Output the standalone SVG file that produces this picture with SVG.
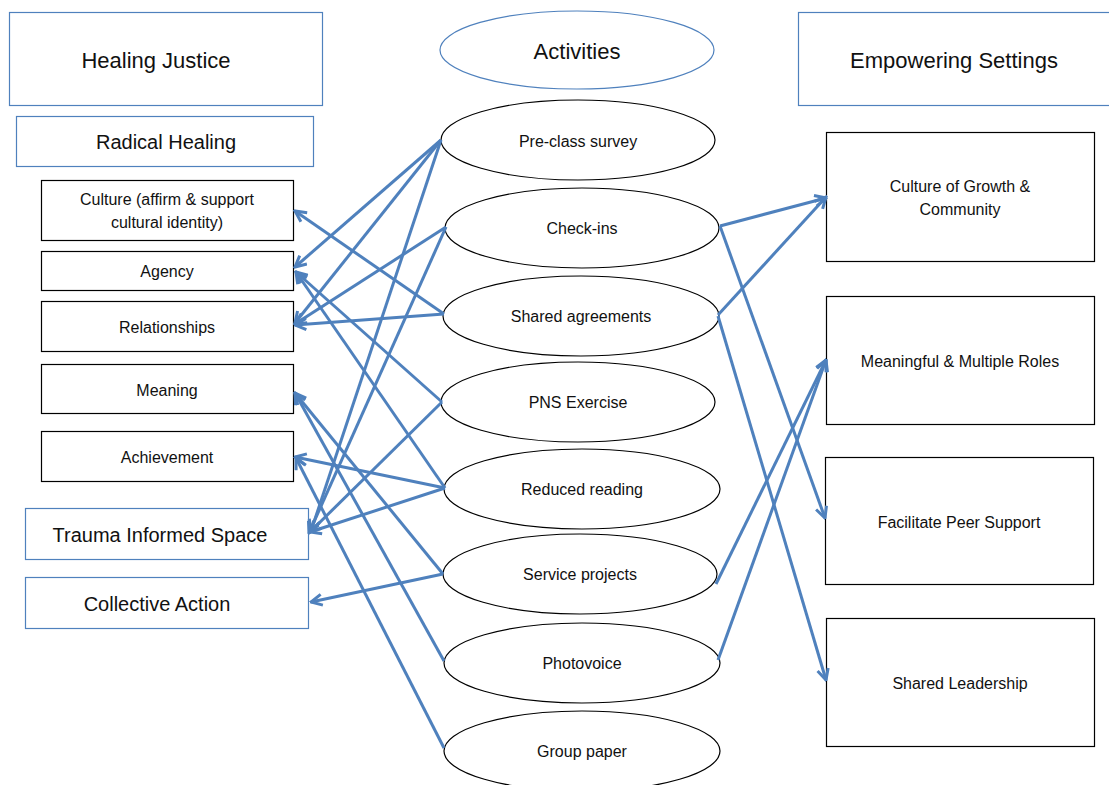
<svg xmlns="http://www.w3.org/2000/svg" width="1109" height="785" viewBox="0 0 1109 785">
<style>
  .bb { fill: #fff; stroke: #4f81bd; stroke-width: 1.2; }
  .kb { fill: #fff; stroke: #000; stroke-width: 1.2; }
  .el { fill: #fff; stroke: #000; stroke-width: 1.2; }
  .elb { fill: #fff; stroke: #4f81bd; stroke-width: 1.2; }
  text { font-family: "Liberation Sans", Arial, sans-serif; fill: #111; text-anchor: middle; dominant-baseline: central; }
  .big { font-size: 22px; }
  .mid { font-size: 20px; }
  .sm { font-size: 16px; }
  .cn line { stroke: #4f81bd; stroke-width: 3; marker-end: url(#ah); }
</style>
<defs>
  <marker id="ah" markerUnits="userSpaceOnUse" viewBox="0 0 14 14" markerWidth="14" markerHeight="14" refX="12.5" refY="7" orient="auto">
    <path d="M1.5,1.5 L12.5,7 L1.5,12.5" fill="none" stroke="#4f81bd" stroke-width="3" stroke-linejoin="miter"/>
  </marker>
</defs>
<rect width="1109" height="785" fill="#fff"/>

<g id="healing-justice"><rect class="bb" x="9.5" y="12.5" width="313" height="93"/><text class="big" x="156" y="60">Healing Justice</text></g>
<g id="radical-healing"><rect class="bb" x="16.5" y="116.5" width="297" height="50"/><text class="mid" x="166" y="142">Radical Healing</text></g>
<g id="culture"><rect class="kb" x="41.5" y="180.5" width="252" height="60"/><text class="sm" x="167" y="199">Culture (affirm &amp; support</text><text class="sm" x="167" y="222">cultural identity)</text></g>
<g id="agency"><rect class="kb" x="41.5" y="251.5" width="252" height="39"/><text class="sm" x="167" y="271">Agency</text></g>
<g id="relationships"><rect class="kb" x="41.5" y="301.5" width="252" height="50"/><text class="sm" x="167" y="327">Relationships</text></g>
<g id="meaning"><rect class="kb" x="41.5" y="364.5" width="252" height="49"/><text class="sm" x="167" y="390">Meaning</text></g>
<g id="achievement"><rect class="kb" x="41.5" y="431.5" width="252" height="50"/><text class="sm" x="167" y="457">Achievement</text></g>
<g id="trauma"><rect class="bb" x="25.5" y="508.5" width="283" height="51"/><text class="mid" x="160" y="535">Trauma Informed Space</text></g>
<g id="collective"><rect class="bb" x="25.5" y="577.5" width="283" height="51"/><text class="mid" x="157" y="604">Collective Action</text></g>

<g id="activities"><ellipse class="elb" cx="577" cy="50" rx="137" ry="39"/><text class="big" x="577" y="51">Activities</text></g>
<g id="pre-class"><ellipse class="el" cx="578" cy="140" rx="137" ry="40"/><text class="sm" x="578" y="141">Pre-class survey</text></g>
<g id="check-ins"><ellipse class="el" cx="582" cy="228" rx="137" ry="40"/><text class="sm" x="582" y="228">Check-ins</text></g>
<g id="shared-agreements"><ellipse class="el" cx="581" cy="316" rx="138" ry="40"/><text class="sm" x="581" y="316">Shared agreements</text></g>
<g id="pns"><ellipse class="el" cx="578" cy="402" rx="137" ry="40"/><text class="sm" x="578" y="402">PNS Exercise</text></g>
<g id="reduced-reading"><ellipse class="el" cx="582" cy="489" rx="138" ry="40"/><text class="sm" x="582" y="489">Reduced reading</text></g>
<g id="service-projects"><ellipse class="el" cx="580" cy="574" rx="137" ry="40"/><text class="sm" x="580" y="574">Service projects</text></g>
<g id="photovoice"><ellipse class="el" cx="582" cy="663" rx="138" ry="40"/><text class="sm" x="582" y="663">Photovoice</text></g>
<g id="group-paper"><ellipse class="el" cx="582" cy="751" rx="138" ry="40"/><text class="sm" x="582" y="751">Group paper</text></g>

<g id="empowering-settings"><rect class="bb" x="798.5" y="12.5" width="320" height="93"/><text class="big" x="954" y="60">Empowering Settings</text></g>
<g id="culture-growth"><rect class="kb" x="826.5" y="132.5" width="268" height="129"/><text class="sm" x="960" y="186">Culture of Growth &amp;</text><text class="sm" x="960" y="209">Community</text></g>
<g id="meaningful-roles"><rect class="kb" x="826.5" y="296.5" width="268" height="128"/><text class="sm" x="960" y="361">Meaningful &amp; Multiple Roles</text></g>
<g id="peer-support"><rect class="kb" x="825.5" y="457.5" width="268" height="127"/><text class="sm" x="959" y="522">Facilitate Peer Support</text></g>
<g id="shared-leadership"><rect class="kb" x="826.5" y="618.5" width="268" height="128"/><text class="sm" x="960" y="683">Shared Leadership</text></g>

<g id="connectors" class="cn">
  <line x1="441" y1="140" x2="295" y2="267"/>
  <line x1="441" y1="140" x2="295" y2="323"/>
  <line x1="441" y1="140" x2="311" y2="531"/>
  <line x1="446" y1="227" x2="295" y2="324"/>
  <line x1="446" y1="227" x2="309" y2="533"/>
  <line x1="444" y1="314" x2="295" y2="211"/>
  <line x1="444" y1="314" x2="295" y2="325"/>
  <line x1="442" y1="402" x2="296" y2="272"/>
  <line x1="442" y1="402" x2="310" y2="532"/>
  <line x1="445" y1="488" x2="296" y2="272"/>
  <line x1="445" y1="488" x2="295" y2="457"/>
  <line x1="445" y1="488" x2="310" y2="532"/>
  <line x1="443" y1="574" x2="295" y2="393"/>
  <line x1="443" y1="574" x2="311" y2="602"/>
  <line x1="444" y1="661" x2="295" y2="393"/>
  <line x1="444" y1="748" x2="296" y2="458"/>
  <line x1="720" y1="226" x2="826" y2="198"/>
  <line x1="718" y1="315" x2="826" y2="197"/>
  <line x1="720" y1="226" x2="825" y2="518"/>
  <line x1="718" y1="316" x2="826" y2="680"/>
  <line x1="716" y1="584" x2="826" y2="360"/>
  <line x1="718" y1="660" x2="826" y2="360"/>
</g>
</svg>
